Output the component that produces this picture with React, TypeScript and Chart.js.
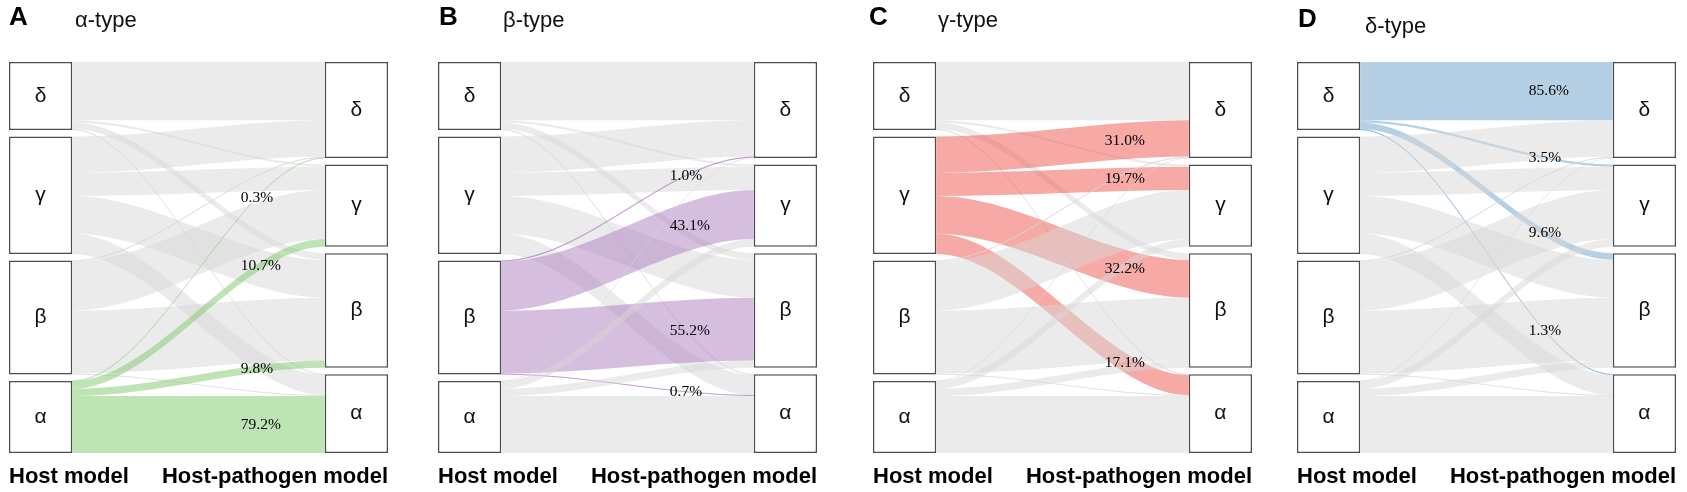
import { useEffect, useRef } from "react";
import { Chart, registerables } from "chart.js";

Chart.register(...registerables);

// ---------- data ----------
const TYPES = ["δ", "γ", "β", "α"]; // top to bottom
// share (%) of each type in the host model
const HOST_SHARE = [18.3, 31.6, 30.7, 19.4];
// % of each host-model type that becomes δ, γ, β, α in the host-pathogen model
const FROM_DELTA = [85.6, 3.5, 9.6, 1.3];
const FROM_GAMMA = [31.0, 19.7, 32.2, 17.1];
const FROM_BETA = [1.0, 43.1, 55.2, 0.7];
const FROM_ALPHA = [0.3, 10.7, 9.8, 79.2];
const TRANSITIONS = [FROM_DELTA, FROM_GAMMA, FROM_BETA, FROM_ALPHA];
const AXIS_LABELS = ["Host model", "Host-pathogen model"];
const PANEL_LETTERS = ["A", "B", "C", "D"];
const PANEL_TITLES = ["α-type", "β-type", "γ-type", "δ-type"];
const PANEL_SOURCES = [3, 2, 1, 0]; // highlighted host-model type (index in TYPES)

// ---------- styles ----------
const HIGHLIGHT_COLORS = [
  "rgba(125,201,109,0.5)",
  "rgba(173,125,189,0.5)",
  "rgba(239,85,75,0.5)",
  "rgba(107,161,201,0.5)",
];
const GRAY = "rgba(215,215,215,0.5)";
const GAP = 1.75;
const NODE_HALF = 0.1;
const LABEL_X = 0.634;
const PANEL_LAYOUT = [
  { boxLeft: 4, letterX: 9, letterTop: 3, titleX: 75, titleTop: 9 },
  { boxLeft: 433, letterX: 439, letterTop: 3, titleX: 503, titleTop: 9 },
  { boxLeft: 868, letterX: 869, letterTop: 3, titleX: 938, titleTop: 8.5 },
  { boxLeft: 1292, letterX: 1298, letterTop: 4.5, titleX: 1365, titleTop: 15 },
];
const PAD = 6;
const AREA_W = 389;

// ---------- derived geometry (value space) ----------
const RIGHT_SHARE = TYPES.map((_, j) =>
  TRANSITIONS.reduce((s, row, i) => s + (HOST_SHARE[i] * row[j]) / 100, 0)
);
function stackNodes(shares: number[]): [number, number][] {
  let c = 0;
  return shares.map((v) => {
    const r: [number, number] = [c, c + v];
    c += v + GAP;
    return r;
  });
}
const LEFT_NODES = stackNodes(HOST_SHARE);
const RIGHT_NODES = stackNodes(RIGHT_SHARE);
const Y_MAX = LEFT_NODES[LEFT_NODES.length - 1][1];

type Flow = { src: number; dst: number; pct: number; l0: number; l1: number; r0: number; r1: number };
const FLOWS: Flow[] = (() => {
  const lo = LEFT_NODES.map((n) => n[0]);
  const ro = RIGHT_NODES.map((n) => n[0]);
  const out: Flow[] = [];
  TRANSITIONS.forEach((row, i) =>
    row.forEach((pct, j) => {
      const w = (HOST_SHARE[i] * pct) / 100;
      out.push({ src: i, dst: j, pct, l0: lo[i], l1: lo[i] + w, r0: ro[j], r1: ro[j] + w });
      lo[i] += w;
      ro[j] += w;
    })
  );
  return out;
})();

const NODE_LABELS = [...TYPES, ...TYPES];

const alluvialPlugin = {
  id: "alluvial",
  beforeDatasetsDraw(chart: any, _args: any, opts: any) {
    const { ctx } = chart;
    const x = chart.scales.x;
    const y = chart.scales.y;
    const xl = x.getPixelForValue(NODE_HALF);
    const xr = x.getPixelForValue(1 - NODE_HALF);
    const k = (xr - xl) / 3;
    ctx.save();
    FLOWS.forEach((f) => {
      const color = f.src === opts.source ? opts.color : GRAY;
      const a0 = y.getPixelForValue(f.l0);
      const a1 = y.getPixelForValue(f.l1);
      const b0 = y.getPixelForValue(f.r0);
      const b1 = y.getPixelForValue(f.r1);
      ctx.beginPath();
      ctx.moveTo(xl, a0);
      ctx.bezierCurveTo(xl + k, a0, xr - k, b0, xr, b0);
      ctx.lineTo(xr, b1);
      ctx.bezierCurveTo(xr - k, b1, xl + k, a1, xl, a1);
      ctx.closePath();
      ctx.fillStyle = color;
      ctx.fill();
      if (Math.abs(a1 - a0) < 1.2) {
        const am = (a0 + a1) / 2;
        const bm = (b0 + b1) / 2;
        ctx.beginPath();
        ctx.moveTo(xl, am);
        ctx.bezierCurveTo(xl + k, am, xr - k, bm, xr, bm);
        ctx.strokeStyle = color;
        ctx.lineWidth = 1;
        ctx.stroke();
      }
    });
    ctx.restore();
  },
  afterDatasetsDraw(chart: any, _args: any, opts: any) {
    const { ctx } = chart;
    const x = chart.scales.x;
    const y = chart.scales.y;
    ctx.save();
    const meta = chart.getDatasetMeta(0);
    ctx.font = '21px "Liberation Sans", Arial, sans-serif';
    ctx.textAlign = "center";
    ctx.textBaseline = "middle";
    ctx.fillStyle = "#111";
    meta.data.forEach((el: any, i: number) => {
      const p = el.getProps(["x", "y", "base"], true);
      ctx.fillText(NODE_LABELS[i], p.x, (p.y + p.base) / 2);
    });
    const xl = x.getPixelForValue(NODE_HALF);
    const xr = x.getPixelForValue(1 - NODE_HALF);
    const lx = x.getPixelForValue(LABEL_X);
    ctx.font = '15.5px "Liberation Serif", "Times New Roman", serif';
    ctx.textAlign = "left";
    ctx.fillStyle = "#000";
    FLOWS.filter((f) => f.src === opts.source).forEach((f) => {
      const text = f.pct.toFixed(1) + "%";
      const w = ctx.measureText(text).width;
      const t = (lx + w / 2 - xl) / (xr - xl);
      const s = 3 * t * t - 2 * t * t * t;
      const am = y.getPixelForValue((f.l0 + f.l1) / 2);
      const bm = y.getPixelForValue((f.r0 + f.r1) / 2);
      ctx.fillText(text, lx, am + (bm - am) * s);
    });
    ctx.restore();
  },
};

function Panel({ idx }: { idx: number }) {
  const ref = useRef<HTMLCanvasElement>(null);
  useEffect(() => {
    const chart = new Chart(ref.current as HTMLCanvasElement, {
      type: "bar",
      data: {
        datasets: [
          {
            label: "nodes",
            data: [
              ...LEFT_NODES.map((n) => ({ x: 0, y: n })),
              ...RIGHT_NODES.map((n) => ({ x: 1, y: n })),
            ] as any,
            backgroundColor: "#ffffff",
            borderColor: "#4d4d4d",
            borderWidth: 1.5,
            borderSkipped: false,
            barPercentage: 2 * NODE_HALF,
            categoryPercentage: 1,
            clip: false as any,
          },
        ],
      },
      options: {
        responsive: false,
        animation: false,
        events: [],
        layout: { padding: { left: PAD, right: PAD, top: 62, bottom: 0 } },
        plugins: {
          legend: { display: false },
          tooltip: { enabled: false },
          alluvial: { source: PANEL_SOURCES[idx], color: HIGHLIGHT_COLORS[idx] },
        } as any,
        scales: {
          x: {
            type: "linear",
            min: -NODE_HALF,
            max: 1 + NODE_HALF,
            offset: false,
            grid: { display: false, drawTicks: false },
            border: { display: false },
            afterBuildTicks: (scale: any) => {
              scale.ticks = [{ value: -NODE_HALF }, { value: 1 + NODE_HALF }];
            },
            afterFit: (scale: any) => {
              scale.height = 39;
            },
            ticks: {
              autoSkip: false,
              maxRotation: 0,
              align: "inner",
              padding: 11,
              color: "#000",
              font: { family: '"Liberation Sans", Arial, sans-serif', size: 22, weight: "bold" },
              callback: (_v: any, i: number) => AXIS_LABELS[i],
            },
          },
          y: {
            type: "linear",
            min: 0,
            max: Y_MAX,
            reverse: true,
            display: false,
          },
        },
      },
      plugins: [alluvialPlugin as any],
    });
    return () => chart.destroy();
  }, [idx]);
  const L = PANEL_LAYOUT[idx];
  return (
    <canvas
      ref={ref}
      width={AREA_W + 2 * PAD}
      height={492}
      style={{ position: "absolute", left: L.boxLeft - PAD, top: 0, width: AREA_W + 2 * PAD, height: 492 }}
    />
  );
}

export default function App() {
  return (
    <div
      style={{
        position: "absolute",
        left: 0,
        top: 0,
        width: 1687,
        height: 492,
        background: "#fff",
        overflow: "hidden",
        fontFamily: '"Liberation Sans", Arial, sans-serif',
      }}
    >
      {PANEL_LETTERS.map((letter, i) => (
        <div key={i}>
          <Panel idx={i} />
          <div
            style={{
              position: "absolute",
              left: PANEL_LAYOUT[i].letterX,
              top: PANEL_LAYOUT[i].letterTop,
              fontSize: 26,
              fontWeight: "bold",
              lineHeight: 1,
              whiteSpace: "nowrap",
              color: "#000",
            }}
          >
            {letter}
          </div>
          <div
            style={{
              position: "absolute",
              left: PANEL_LAYOUT[i].titleX,
              top: PANEL_LAYOUT[i].titleTop,
              fontSize: 22,
              lineHeight: 1,
              whiteSpace: "nowrap",
              color: "#111",
            }}
          >
            {PANEL_TITLES[i]}
          </div>
        </div>
      ))}
    </div>
  );
}
